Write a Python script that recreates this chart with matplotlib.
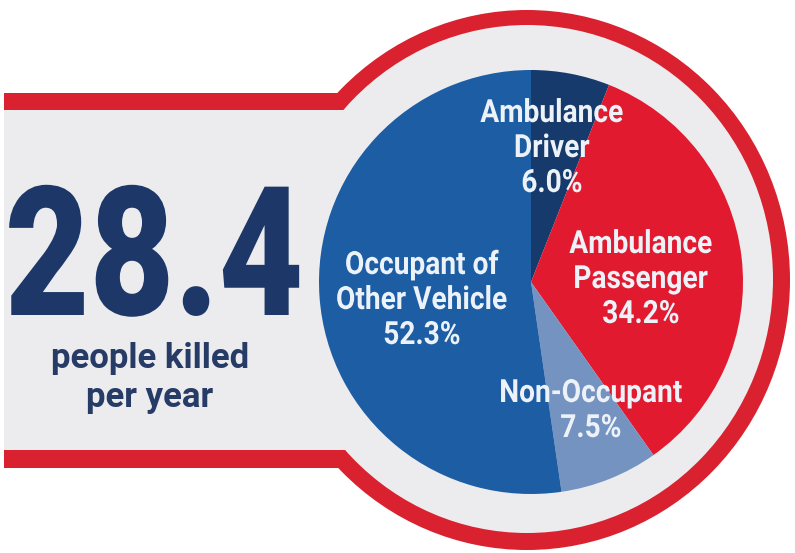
import matplotlib
matplotlib.use('Agg')
import matplotlib.pyplot as plt
from matplotlib.patches import Rectangle, Ellipse
from matplotlib.patheffects import AbstractPathEffect
from matplotlib.transforms import Affine2D

# ---- data ----
categories = ['Ambulance\nDriver', 'Ambulance\nPassenger', 'Non-Occupant', 'Occupant of\nOther Vehicle']
shares = [6.0, 34.2, 7.5, 52.3]
colors = ['#163a6c', '#e11a2f', '#7593c0', '#1c5da4']
total_killed = 28.4
total_caption = 'people killed\nper year'

# label anchor (centre x, first baseline) in pixel coords of the figure
label_pos = [(552, 122), (641, 253), (591, 402), (422, 274)]
line_step = 35

RED = '#d9212f'
GRAY = '#ececee'
NAVY = '#1c3768'
FONT = ['Roboto', 'DejaVu Sans']


class Squeeze(AbstractPathEffect):
    """narrow the glyphs horizontally around x0 (display px), a poor man's condensed font"""

    def __init__(self, sx, x0):
        super().__init__()
        self.sx, self.x0 = sx, x0

    def draw_path(self, renderer, gc, tpath, affine, rgbFace=None):
        t = affine + Affine2D().translate(-self.x0, 0).scale(self.sx, 1).translate(self.x0, 0)
        renderer.draw_path(gc, tpath, t, rgbFace)


W, H = 795, 553
fig = plt.figure(figsize=(W / 100, H / 100), dpi=100)

# background badge: band + ring, drawn in pixel coords
bg = fig.add_axes([0, 0, 1, 1])
bg.set_xlim(0, W)
bg.set_ylim(H, 0)
bg.axis('off')
bg.add_patch(Rectangle((4, 93), 536, 375, color=RED, lw=0))
bg.add_patch(Ellipse((527, 280), 2 * 263, 2 * 270, color=RED, lw=0))
bg.add_patch(Rectangle((4, 110), 536, 340, color=GRAY, lw=0))
bg.add_patch(Ellipse((527, 279), 2 * 246, 2 * 254, color=GRAY, lw=0))


def squeezed(axes, x, y, s, sx, **kw):
    x0 = bg.transData.transform((x, y))[0]
    t = axes.text(x, y, s, transform=bg.transData, ha='center', va='baseline', **kw)
    t.set_path_effects([Squeeze(sx, x0)])
    return t


# big number and caption
squeezed(bg, 154, 315, f'{total_killed:.1f}', 0.81,
         fontsize=130, fontweight='black', color=NAVY, family=FONT)
for i, line in enumerate(total_caption.split('\n')):
    bg.text(150, 368 + i * 39, line, ha='center', va='baseline',
            fontsize=25, fontweight='bold', color='#263c66', family=FONT)

# pie
cx, cy, r = 531, 282, 212
ax = fig.add_axes([(cx - r) / W, (H - cy - r) / H, 2 * r / W, 2 * r / H])
ax.pie(shares, colors=colors, startangle=90, counterclock=False,
       wedgeprops=dict(linewidth=0))
ax.set_aspect('auto')
ax.set_xlim(-1, 1)
ax.set_ylim(-1, 1)
ax.axis('off')

for cat, val, (x, y) in zip(categories, shares, label_pos):
    lines = cat.split('\n') + [f'{val:.1f}%']
    for i, line in enumerate(lines):
        squeezed(ax, x, y + i * line_step, line, 0.88, fontsize=23,
                 fontweight='bold', color='#ecf2f8', family=FONT)

fig.savefig('out.png', dpi=100)
